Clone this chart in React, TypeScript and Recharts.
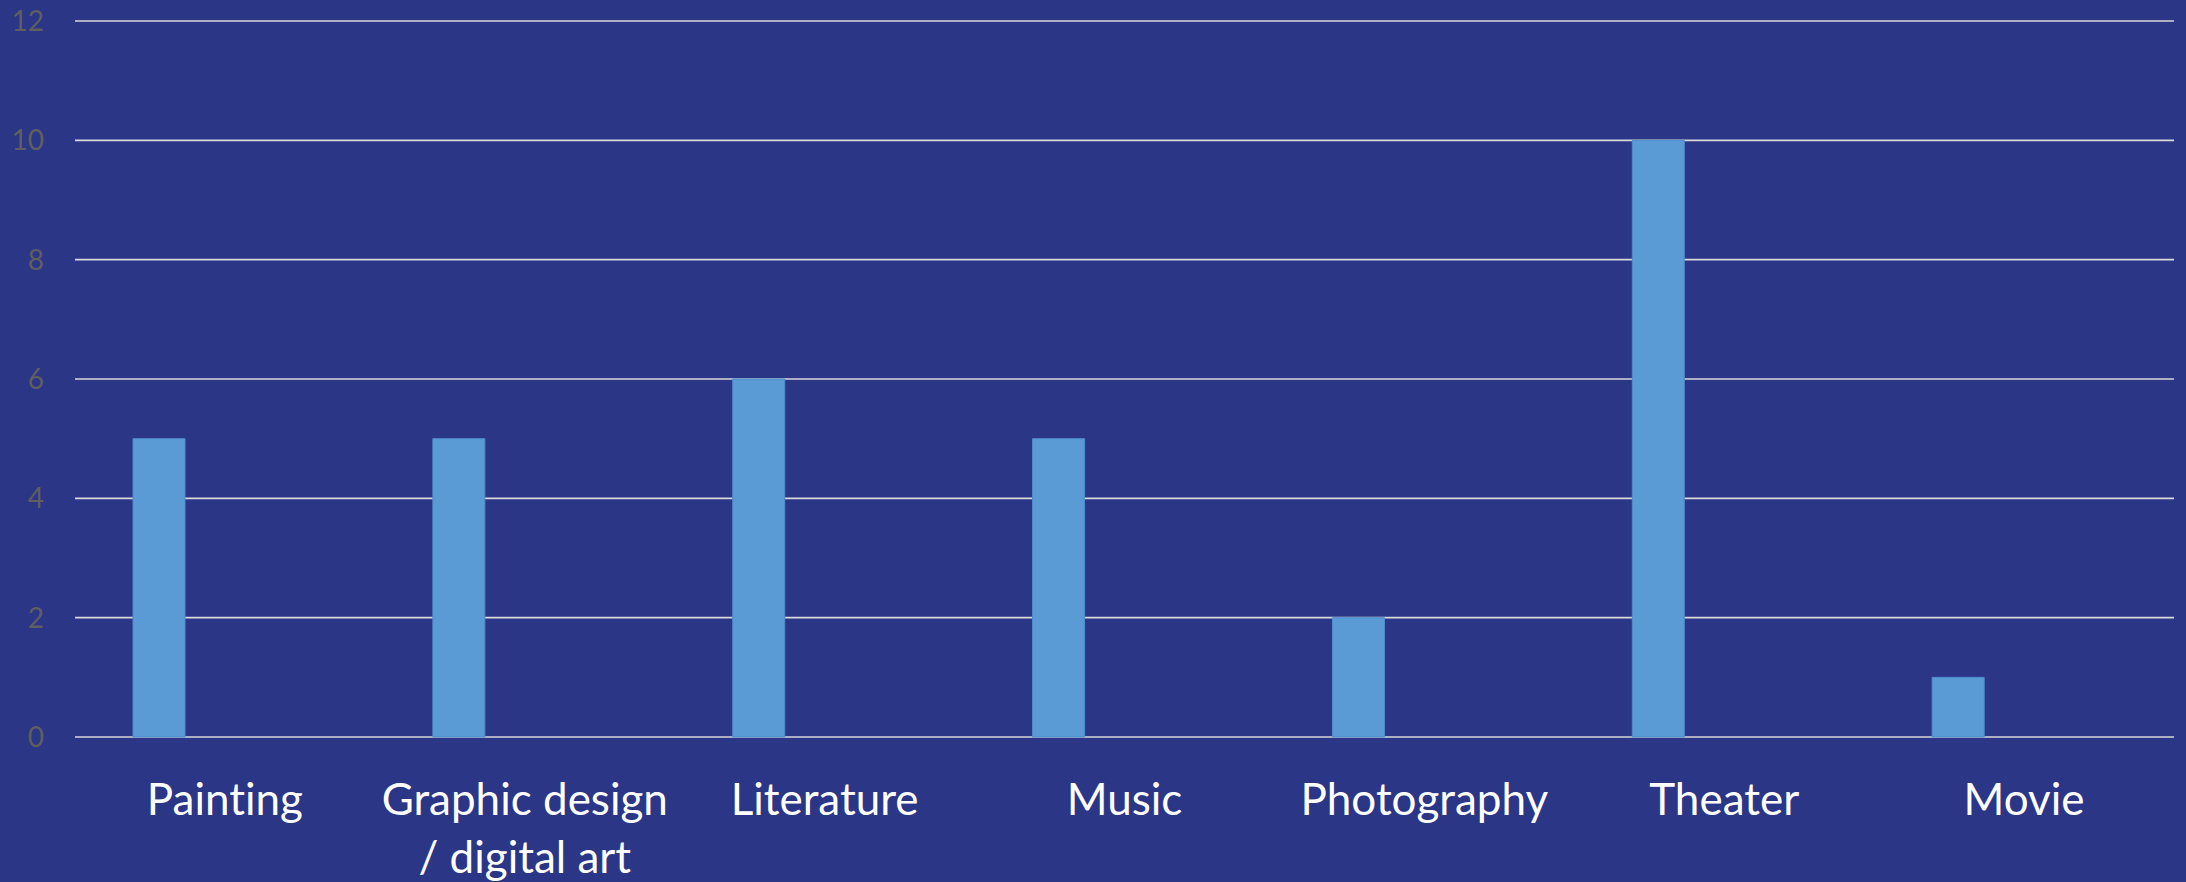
import { Bar, BarChart, CartesianGrid, XAxis, YAxis } from 'recharts';

const categories = ['Painting', 'Graphic design / digital art', 'Literature', 'Music', 'Photography', 'Theater', 'Movie'];
const tickLines = [['Painting'], ['Graphic design', '/ digital art'], ['Literature'], ['Music'], ['Photography'], ['Theater'], ['Movie']];
const counts = [5, 5, 6, 5, 2, 10, 1];
// second (empty) series in the original workbook, keeps the bars left of the category centre
const emptySeries = [0, 0, 0, 0, 0, 0, 0];
const yTicks = [0, 2, 4, 6, 8, 10, 12];

const data = categories.map((name, i) => ({ name, count: counts[i], empty: emptySeries[i] }));

const CategoryTick = (props: any) => {
  const { x, y, index } = props;
  const lines = tickLines[index] || [];
  return (
    <text
      x={x}
      y={y + 76}
      textAnchor="middle"
      fill="#ffffff"
      fontSize={44}
      fontFamily="Lato, 'Open Sans', sans-serif"
      style={{ fontVariantLigatures: 'none' }}
    >
      {lines.map((line, i) => (
        <tspan key={i} x={x} dy={i === 0 ? 0 : 58}>
          {line}
        </tspan>
      ))}
    </text>
  );
};

const App = () => {
  return (
    <div style={{ position: 'absolute', left: 0, top: 0, width: 2186, height: 882, background: '#2b3687' }}>
      <BarChart
        width={2186}
        height={882}
        data={data}
        margin={{ top: 21, right: 12, bottom: 0, left: 0 }}
        barSize={52}
        barGap={80}
      >
        <CartesianGrid vertical={false} stroke="#d9d9d9" strokeWidth={1.6} />
        <XAxis
          dataKey="name"
          height={145}
          axisLine={false}
          tickLine={false}
          tickSize={0}
          interval={0}
          tick={<CategoryTick />}
        />
        <YAxis
          width={75}
          domain={[0, 12]}
          ticks={yTicks}
          axisLine={false}
          tickLine={false}
          tickSize={0}
          tickMargin={31}
          tick={{ fill: '#5f5f5f', fontSize: 28, fontFamily: 'Lato, sans-serif' }}
        />
        <Bar dataKey="count" fill="#5b9bd5" stroke="#4f8ccc" strokeWidth={1} isAnimationActive={false} />
        <Bar dataKey="empty" fill="#ed7d31" isAnimationActive={false} />
      </BarChart>
    </div>
  );
};

export default App;
